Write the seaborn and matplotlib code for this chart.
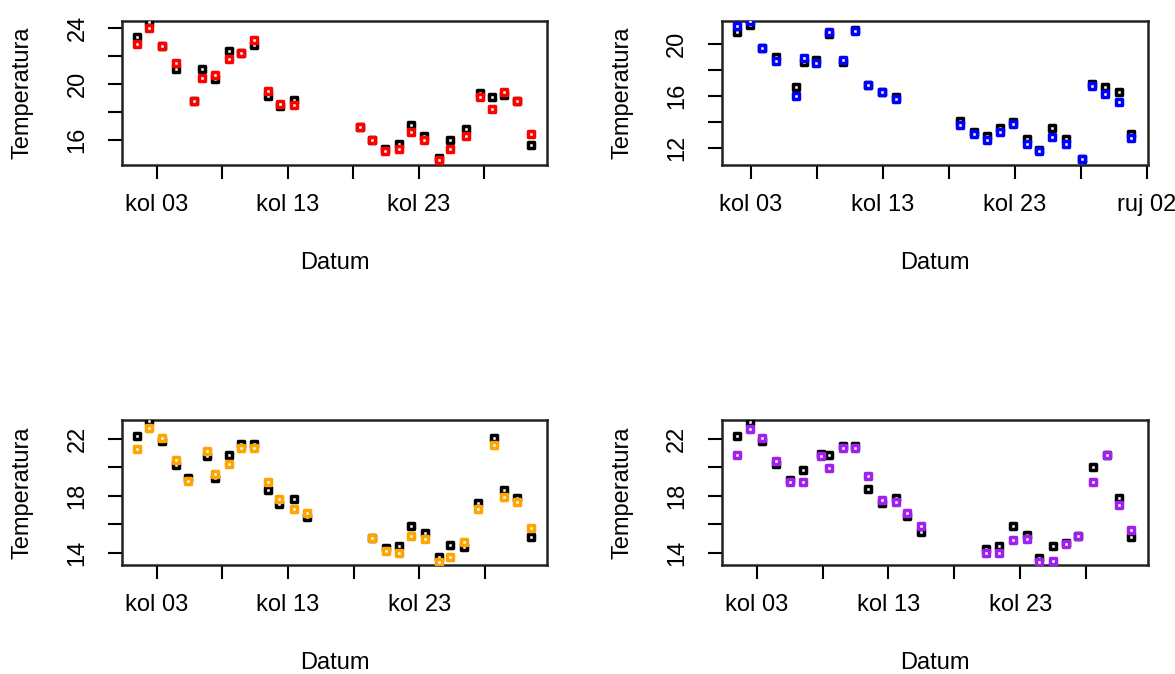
import matplotlib
matplotlib.use('Agg')
import matplotlib.pyplot as plt
import numpy as np
import pandas as pd
import seaborn as sns

# day of August (fractional), 32 = 1 Sep; black = first series, colour = second
dan1 = [1.47, 2.39, 3.43, 4.48, 5.85, 6.44, 7.48, 8.53, 9.42, 10.44, 11.53, 12.45, 13.47,
        18.53, 19.45, 20.47, 21.54, 22.43, 23.45, 24.54, 25.43, 26.63, 27.67, 28.62, 29.51,
        30.53, 31.62]
crna1 = [23.38, 24.43, 22.76, 21.07, 18.76, 21.07, 20.36, 22.40, 22.21, 22.81, 19.12, 18.40, 18.88,
         16.95, 16.00, 15.35, 15.67, 17.05, 16.24, 14.71, 15.95, 16.79, 19.36, 19.05, 19.24,
         18.76, 15.60]
crvena1 = [22.88, 24.00, 22.76, 21.50, 18.76, 20.43, 20.67, 21.79, 22.21, 23.17, 19.48, 18.60, 18.48,
           16.95, 16.00, 15.20, 15.33, 16.57, 16.02, 14.55, 15.31, 16.26, 19.05, 18.21, 19.43,
           18.76, 16.45]

dan2 = [1.91, 2.95, 3.86, 4.87, 6.39, 7.00, 7.90, 8.94, 9.95, 10.86, 11.90, 12.96, 14.00,
        18.87, 19.94, 20.87, 21.86, 22.89, 23.96, 24.84, 25.85, 26.86, 28.08, 28.83, 29.87,
        30.93, 31.79]
crna2 = [20.90, 21.46, 19.72, 19.03, 16.72, 18.64, 18.77, 20.80, 18.64, 21.08, 16.85, 16.28, 15.95,
         14.08, 13.20, 12.95, 13.51, 13.97, 12.69, 11.85, 13.51, 12.69, 11.13, 16.92, 16.72,
         16.33, 13.10]
plava2 = [21.38, 21.74, 19.72, 18.69, 16.00, 18.95, 18.51, 20.90, 18.77, 21.00, 16.85, 16.28, 15.74,
          13.77, 13.08, 12.62, 13.20, 13.82, 12.31, 11.77, 12.87, 12.31, 11.13, 16.77, 16.15,
          15.51, 12.75]

dan3 = [1.53, 2.39, 3.41, 4.47, 5.36, 6.81, 7.44, 8.51, 9.42, 10.44, 11.48, 12.34, 13.43, 14.47,
        19.37, 20.44, 21.48, 22.39, 23.41, 24.50, 25.36, 26.43, 27.44, 28.69, 29.45, 30.46, 31.50]
crna3 = [22.23, 23.27, 21.86, 20.17, 19.28, 20.83, 19.23, 20.87, 21.62, 21.62, 18.41, 17.40, 17.77, 16.53,
         15.05, 14.35, 14.49, 15.90, 15.36, 13.71, 14.54, 14.42, 17.47, 22.09, 18.41, 17.87, 15.12]
narancasta3 = [21.30, 22.80, 22.09, 20.50, 19.04, 21.18, 19.51, 20.22, 21.34, 21.34, 19.00, 17.77, 17.07, 16.77,
               15.05, 14.11, 14.00, 15.19, 14.93, 13.36, 13.71, 14.77, 17.07, 21.58, 17.94, 17.54, 15.76]

dan4 = [1.48, 2.52, 3.43, 4.44, 5.53, 6.54, 7.88, 8.49, 9.53, 10.46, 11.48, 12.49, 13.58, 14.44, 15.48,
        20.41, 21.42, 22.48, 23.50, 24.43, 25.47, 26.46, 27.42, 28.55, 29.61, 30.50, 31.42]
crna4 = [22.23, 23.22, 21.86, 20.22, 19.11, 19.82, 20.92, 20.87, 21.53, 21.53, 18.46, 17.47, 17.82, 16.60, 15.43,
         14.23, 14.46, 15.87, 15.24, 13.64, 14.49, 14.65, 15.19, 20.05, 20.87, 17.87, 15.12]
ljubicasta4 = [20.87, 22.68, 22.05, 20.45, 19.00, 19.00, 20.80, 19.93, 21.34, 21.34, 19.39, 17.70, 17.54, 16.77, 15.87,
               14.00, 14.00, 14.89, 14.93, 13.36, 13.41, 14.58, 15.19, 19.00, 20.87, 17.35, 15.59]

pocetak = pd.Timestamp('2017-07-31')


def u_datum(dani):
    return pocetak + pd.to_timedelta(dani, unit='D')


sns.set_theme(style='white')
plt.rcParams['font.family'] = ['Liberation Sans', 'DejaVu Sans']
plt.rcParams['text.color'] = 'black'
plt.rcParams['axes.labelcolor'] = 'black'
plt.rcParams['xtick.color'] = 'black'
plt.rcParams['ytick.color'] = 'black'

fig = plt.figure(figsize=(11.75, 6.74), dpi=100)

paneli = [
    (dan1, crna1, crvena1, 'red', [0.1036, 0.7552, 0.3622, 0.2141], (0.33, 32.84), (14.19, 24.55),
     [16, 18, 20, 22, 24], [16, 20, 24], False),
    (dan2, crna2, plava2, 'blue', [0.6142, 0.7552, 0.3624, 0.2141], (0.78, 33.07), (10.69, 21.79),
     [12, 14, 16, 18, 20], [12, 16, 20], True),
    (dan3, crna3, narancasta3, 'orange', [0.1036, 0.1617, 0.3622, 0.2151], (0.34, 32.75), (13.13, 23.34),
     [14, 16, 18, 20, 22], [14, 18, 22], False),
    (dan4, crna4, ljubicasta4, '#A020F0', [0.6142, 0.1617, 0.3624, 0.2151], (0.34, 32.67), (13.13, 23.34),
     [14, 16, 18, 20, 22], [14, 18, 22], False),
]

for dani, crna, boja_vals, boja, pos, xlim, ylim, yticks, ylabels, ima_ruj in paneli:
    ax = fig.add_axes(pos)
    df = pd.DataFrame({'Datum': u_datum(dani), 'crna': crna, 'boja': boja_vals})
    sns.scatterplot(data=df, x='Datum', y='crna', ax=ax, marker='s', s=22,
                    facecolor='white', edgecolor='black', linewidth=2.5, zorder=3)
    sns.scatterplot(data=df, x='Datum', y='boja', ax=ax, marker='s', s=22,
                    facecolor='white', edgecolor=boja, linewidth=2.5, zorder=4)

    ax.set_xlim(u_datum(xlim[0]), u_datum(xlim[1]))
    ax.set_ylim(*ylim)

    tick_dani = [3, 8, 13, 18, 23, 28]
    tick_txt = ['kol 03', '', 'kol 13', '', 'kol 23', '']
    if ima_ruj:
        tick_dani.append(33)
        tick_txt.append('ruj 02')
    ax.set_xticks(list(u_datum(tick_dani)))
    ax.set_xticklabels(tick_txt, fontsize=17)
    ax.set_yticks(yticks)
    ax.set_yticklabels([str(v) if v in ylabels else '' for v in yticks],
                       fontsize=17, rotation=90, va='center')

    ax.tick_params(axis='both', direction='out', length=10, width=1.5, color='black',
                   left=True, bottom=True)
    ax.tick_params(axis='x', pad=11)
    ax.tick_params(axis='y', pad=14)
    for sp in ax.spines.values():
        sp.set_color('#222222')
        sp.set_linewidth(1.8)

    ax.set_xlabel('Datum', fontsize=17, va='center')
    ax.set_ylabel('Temperatura', fontsize=17, va='center')
    ax.xaxis.set_label_coords(0.5, -98 / 144.3)
    ax.yaxis.set_label_coords(-99 / 425.6, 0.5)
    ax.grid(False)

fig.savefig('out.png', dpi=100, facecolor='white')
